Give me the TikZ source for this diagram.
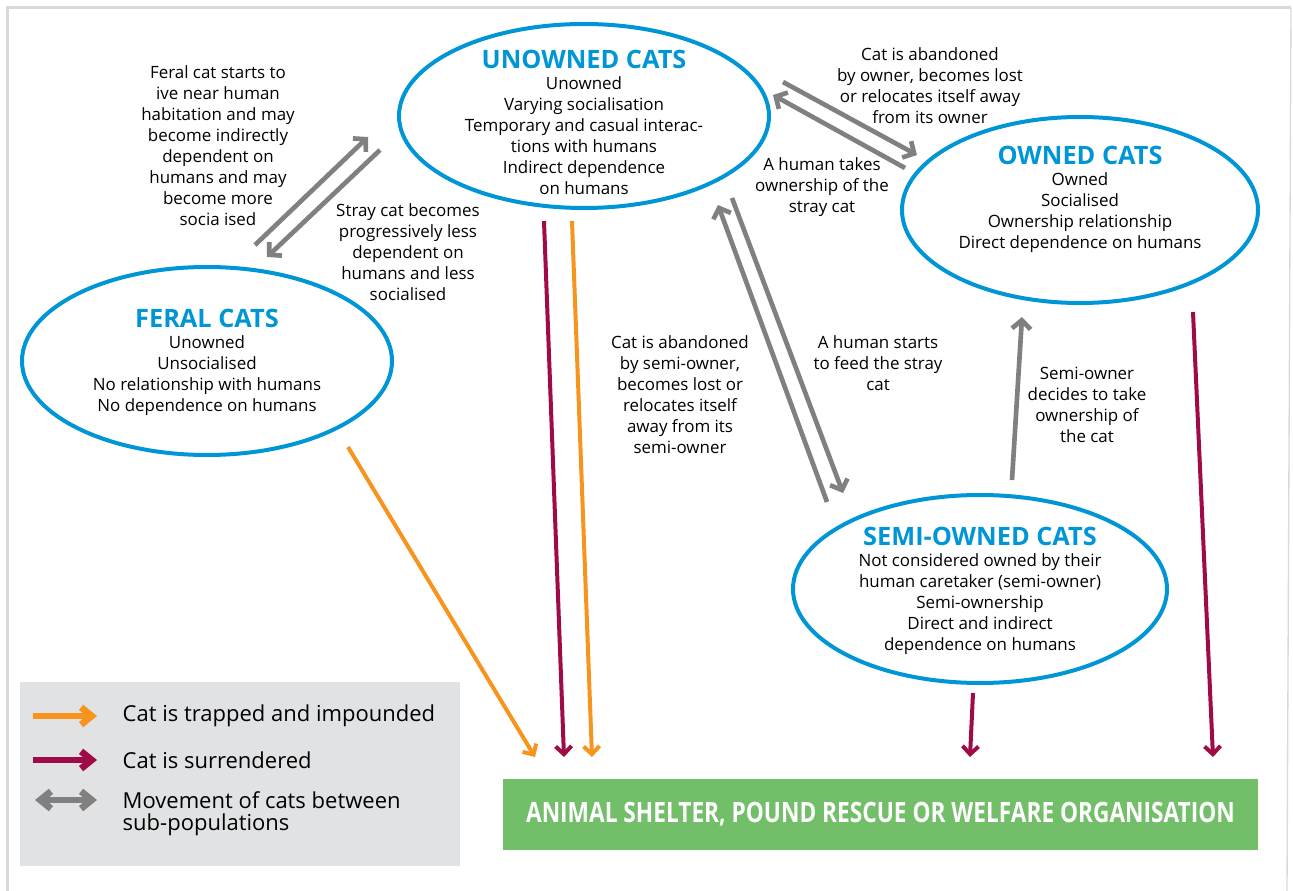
\documentclass[tikz,border=0pt]{standalone}
\usepackage{fontspec}
\setmainfont{Open Sans}
\usetikzlibrary{arrows.meta,shapes.geometric}

\definecolor{catblue}{RGB}{0,150,214}
\definecolor{trapped}{RGB}{247,148,30}
\definecolor{surrendered}{RGB}{158,11,70}
\definecolor{movegray}{RGB}{128,128,128}
\definecolor{sheltergreen}{RGB}{115,191,105}
\definecolor{legendgray}{RGB}{225,226,228}
\definecolor{framegray}{RGB}{217,217,217}

\newcommand{\poptitle}[1]{{\fontsize{19}{20}\selectfont\bfseries\color{catblue}#1}}

\begin{document}
\begin{tikzpicture}[
            x=0.75pt, y=-0.75pt,
            catpop/.style={ellipse, draw=catblue, line width=3pt, inner sep=0pt},
            cattext/.style={align=center, font=\fontsize{12.7}{15.75}\selectfont},
            note/.style={align=center, font=\fontsize{12.7}{15.75}\selectfont},
            legendtext/.style={anchor=west, align=left, font=\fontsize{16.5}{16.5}\selectfont},
            impound/.style={draw=trapped, line width=3pt, -{Straight Barb[length=6pt,width=12pt]}},
            surrender/.style={draw=surrendered, line width=3pt, -{Straight Barb[length=6pt,width=12pt]}},
            movement/.style={draw=movegray, line width=3.5pt, -{Straight Barb[length=6.5pt,width=14pt]}},
            keyarrow/.style={line width=5pt, -{Straight Barb[length=8pt,width=13pt]}}
        ]
        \useasboundingbox (0,0) rectangle (1293,891);

        % Frame
        \draw[framegray, line width=2.25pt] (7,891) -- (7,8) -- (1291,8);
        \draw[framegray, line width=1pt] (1291,8) -- (1287,891);

        % Cat populations
        \node[catpop, minimum width=277.5pt, minimum height=138pt] (unowned) at (584,116) {};
        \node[catpop, minimum width=267pt, minimum height=139.5pt] (owned) at (1080,210) {};
        \node[catpop, minimum width=277.5pt, minimum height=141pt] (feral) at (207,361) {};
        \node[catpop, minimum width=280.5pt, minimum height=141pt] (semi) at (980,589) {};

        \node[cattext] (unownedtext) at (584,122) {\poptitle{UNOWNED CATS}\\ Unowned\\ Varying socialisation\\
            Temporary and casual interac-\\ tions with humans\\ Indirect dependence\\ on humans};
        \node[cattext] (ownedtext) at (1080,199) {\poptitle{OWNED CATS}\\ Owned\\ Socialised\\
            Ownership relationship\\ Direct dependence on humans};
        \node[cattext] (feraltext) at (207,362) {\poptitle{FERAL CATS}\\ Unowned\\ Unsocialised\\
            No relationship with humans\\ No dependence on humans};
        \node[cattext] (semitext) at (980,591) {\poptitle{SEMI-OWNED CATS}\\ Not considered owned by their\\
            human caretaker (semi-owner)\\ Semi-ownership\\ Direct and indirect\\ dependence on humans};

        % Shelter
        \node[fill=sheltergreen, minimum width=566.25pt, minimum height=53.25pt, text=white,
            font=\fontsize{21}{22}\selectfont\bfseries\addfontfeature{FakeStretch=0.81}] (shelter) at (880.5,814.5)
            {ANIMAL SHELTER, POUND RESCUE OR WELFARE ORGANISATION};

        % Arrow ends
        \coordinate (fu1) at (255,245);  \coordinate (fu2) at (368,137);
        \coordinate (uf1) at (380,150);  \coordinate (uf2) at (267,257);
        \coordinate (uo1) at (783,82);   \coordinate (uo2) at (917,155);
        \coordinate (ou1) at (905,168);  \coordinate (ou2) at (773,95);
        \coordinate (su1) at (827,502);  \coordinate (su2) at (718,205);
        \coordinate (us1) at (732,198);  \coordinate (us2) at (843,493);
        \coordinate (so1) at (1012,480); \coordinate (so2) at (1022,317);
        \coordinate (fs1) at (348,447);  \coordinate (fs2) at (535,757);
        \coordinate (us3) at (544,221);  \coordinate (us4) at (564,757);
        \coordinate (us5) at (572,221);  \coordinate (us6) at (592,757);
        \coordinate (ss1) at (973,693);  \coordinate (ss2) at (970,757);
        \coordinate (os1) at (1193,312); \coordinate (os2) at (1213,757);

        % Movement between sub-populations
        \draw[movement] (fu1) -- (fu2);
        \draw[movement] (uf1) -- (uf2);
        \draw[movement] (uo1) -- (uo2);
        \draw[movement] (ou1) -- (ou2);
        \draw[movement] (su1) -- (su2);
        \draw[movement] (us1) -- (us2);
        \draw[movement] (so1) -- (so2);

        % Into the shelter
        \draw[impound] (fs1) -- (fs2);
        \draw[surrender] (us3) -- (us4);
        \draw[impound] (us5) -- (us6);
        \draw[surrender] (ss1) -- (ss2);
        \draw[surrender] (os1) -- (os2);

        % Labels
        \node[note] (feralnote) at (218,146) {Feral cat starts to\\ ive near human\\ habitation and may\\
            become indirectly\\ dependent on\\ humans and may\\ become more\\ socia ised};
        \node[note] (straynote) at (408,252) {Stray cat becomes\\ progressively less\\ dependent on\\
            humans and less\\ socialised};
        \node[note] (abandonnote) at (930,86) {Cat is abandoned\\ by owner, becomes lost\\
            or relocates itself away\\ from its owner};
        \node[note] (takesnote) at (822,187) {A human takes\\ ownership of the\\ stray cat};
        \node[note] (semiabandonnote) at (680,395) {Cat is abandoned\\ by semi-owner,\\ becomes lost or\\
            relocates itself\\ away from its\\ semi-owner};
        \node[note] (feednote) at (878,363) {A human starts\\ to feed the stray\\ cat};
        \node[note] (decidesnote) at (1087,405) {Semi-owner\\ decides to take\\ ownership of\\ the cat};

        % Legend
        \node[fill=legendgray, minimum width=330pt, minimum height=138pt] (legend) at (240,774) {};
        \coordinate (k1a) at (33,716); \coordinate (k1b) at (97,716);
        \coordinate (k2a) at (33,760); \coordinate (k2b) at (97,760);
        \coordinate (k3a) at (35,800); \coordinate (k3b) at (97,800);
        \draw[keyarrow, draw=trapped] (k1a) -- (k1b);
        \draw[keyarrow, draw=surrendered] (k2a) -- (k2b);
        \draw[keyarrow, draw=movegray, {Straight Barb[length=8pt,width=13pt]}-{Straight Barb[length=8pt,width=13pt]}] (k3a) -- (k3b);
        \node[legendtext] (key1) at (118,716) {Cat is trapped and impounded};
        \node[legendtext] (key2) at (118,760) {Cat is surrendered};
        \node[legendtext, anchor=north west] (key3) at (118,787) {Movement of cats between\\ sub-populations};

    \end{tikzpicture}
\end{document}
